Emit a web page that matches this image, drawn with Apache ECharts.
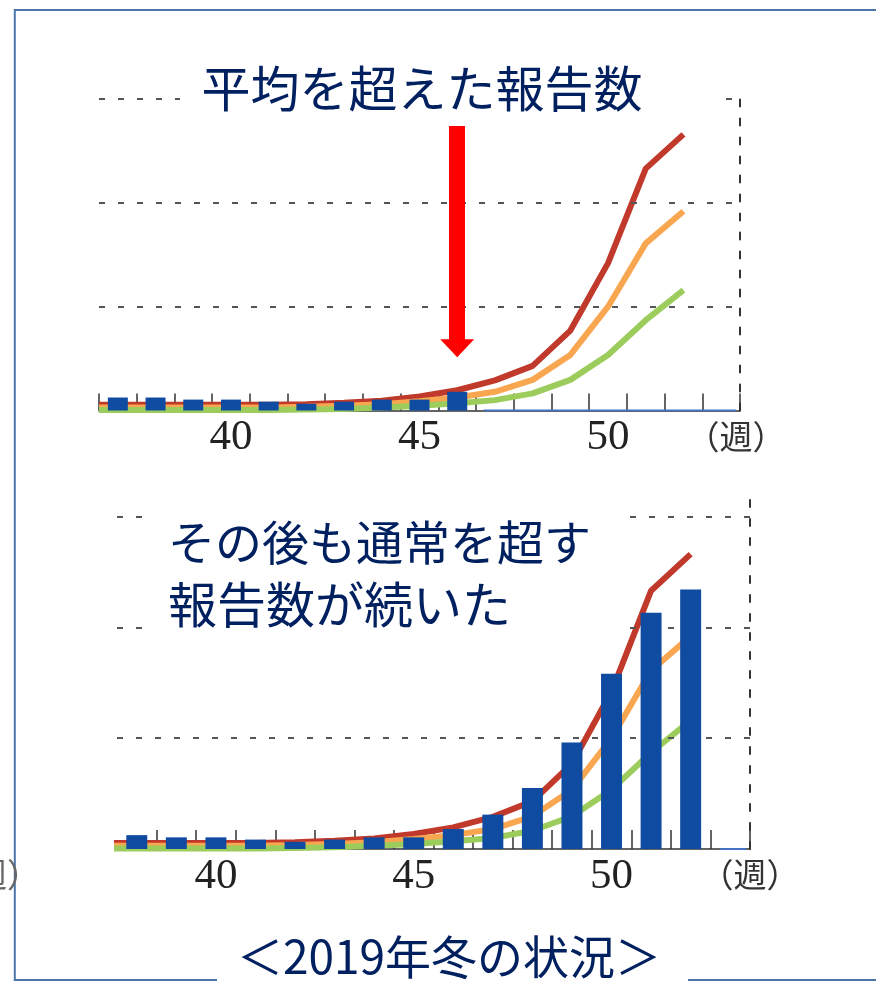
<!DOCTYPE html>
<html>
<head>
<meta charset="utf-8">
<script src="https://cdn.jsdelivr.net/npm/echarts@6/dist/echarts.min.js"></script>
<style>
  html, body { margin: 0; padding: 0; background: #ffffff; }
  #chart { width: 876px; height: 981px; }
</style>
</head>
<body>
<div id="chart"></div>
<script>
// category axes (weeks)
const topWeeks = ['37', '38', '39', '40', '41', '42', '43', '44', '45', '46', '47', '48', '49', '50', '51', '52', '53']
const bottomWeeks = ['38', '39', '40', '41', '42', '43', '44', '45', '46', '47', '48', '49', '50', '51', '52', '53']

// reported counts (blue bars), weeks 37..52
const reportWeeks = [37, 38, 39, 40, 41, 42, 43, 44, 45, 46, 47, 48, 49, 50, 51, 52]
const reports = [1.25, 1.25, 1.05, 1.05, 0.85, 0.65, 0.85, 1.05, 1.05, 1.8, 3.1, 5.5, 9.6, 15.8, 21.3, 23.4]
const topLastWeek = 46

// past-season curves, first point sits on the left edge of the plot
const curveWeeks = [36.5, 37, 38, 39, 40, 41, 42, 43, 44, 45, 46, 47, 48, 49, 50, 51, 52]
const highCurve = [0.55, 0.55, 0.55, 0.55, 0.55, 0.55, 0.6, 0.75, 0.95, 1.35, 1.95, 2.9, 4.3, 7.7, 14.2, 23.3, 26.6]
const avgCurve = [0.3, 0.3, 0.3, 0.3, 0.3, 0.3, 0.35, 0.45, 0.6, 0.9, 1.25, 1.8, 2.95, 5.35, 10.0, 16.1, 19.2]
const lowCurve = [0.05, 0.05, 0.05, 0.05, 0.05, 0.05, 0.1, 0.15, 0.3, 0.45, 0.7, 1.0, 1.65, 2.95, 5.35, 8.7, 11.6]

// blue zero line for weeks without reports
const topZero = [[46.7, 0], [53.4, 0]]
const bottomZero = [[52.75, 0], [53.4, 0]]

const gridValues = [10, 20, 30]
const arrowFrom = 27.4
const arrowTo = 6.0

const C = {
  high: '#c0392b',
  avg: '#f9a651',
  low: '#9ccd5c',
  bar: '#0f4ba0',
  navy: '#002060',
  axis: '#333333',
  frame: '#4a76aa',
}

const chart = echarts.init(document.getElementById('chart'))

function curve(vals) {
  return curveWeeks.map((w, i) => [w, vals[i]])
}

function barData(weeks, last) {
  return weeks.map(w => {
    const i = reportWeeks.indexOf(+w)
    return i >= 0 && +w <= last ? reports[i] : null
  })
}

function catAxis(grid, data, tickLen, skipFirst) {
  return {
    type: 'category',
    gridIndex: grid,
    data: data,
    boundaryGap: true,
    axisLine: { show: true, lineStyle: { color: C.axis, width: 1.5 } },
    axisTick: {
      show: true,
      inside: true,
      length: tickLen,
      lineStyle: { color: C.axis, width: 1.5 },
      interval: skipFirst ? (i) => i > 0 : 0,
    },
    axisLabel: {
      interval: (i, v) => +v % 5 === 0,
      fontFamily: 'Liberation Serif',
      fontSize: 43,
      color: '#222',
      margin: 6,
    },
    splitLine: { show: false },
  }
}

function valAxis(grid, max) {
  return {
    type: 'value',
    gridIndex: grid,
    min: 0,
    max: max,
    position: 'right',
    axisLine: { show: true, lineStyle: { color: C.axis, width: 2, type: [7, 12] } },
    axisTick: { show: false },
    axisLabel: { show: false },
    splitLine: { show: false },
  }
}

function lineSeries(x, y, vals, color, z) {
  return {
    type: 'line', xAxisIndex: x, yAxisIndex: y, data: curve(vals),
    symbol: 'none', z: z, silent: true,
    lineStyle: { color: color, width: 6 },
  }
}

function panel(catIdx, valIdx, yIdx, weeks, last, zero, arrow) {
  const grid = {
    type: 'line', xAxisIndex: valIdx, yAxisIndex: yIdx, data: zero,
    symbol: 'none', z: 1, silent: true,
    lineStyle: { color: '#4472c4', width: 2 },
    markLine: {
      silent: true, symbol: 'none', label: { show: false },
      lineStyle: { color: '#555', width: 2, type: [6, 13] },
      data: gridValues.map(v => ({ yAxis: v })),
    },
  }
  const bars = {
    type: 'bar', xAxisIndex: catIdx, yAxisIndex: yIdx,
    data: barData(weeks, last), barWidth: '53%', z: 6, silent: true,
    itemStyle: { color: C.bar },
  }
  if (arrow) {
    bars.markLine = {
      silent: true, label: { show: false }, symbol: ['none', 'triangle'],
      lineStyle: { color: '#ff0000', width: 16, type: 'solid', opacity: 1 },
      data: [[
        { xAxis: String(topLastWeek), yAxis: arrowFrom, symbol: 'none' },
        { xAxis: String(topLastWeek), yAxis: arrowTo, symbol: 'triangle', symbolSize: [34, 18] },
      ]],
    }
  }
  return [
    grid,
    lineSeries(valIdx, yIdx, highCurve, C.high, 2),
    lineSeries(valIdx, yIdx, avgCurve, C.avg, 3),
    lineSeries(valIdx, yIdx, lowCurve, C.low, 4),
    bars,
  ]
}

const jp = 'Noto Sans CJK JP'

function txt(text, x, y, size, align, font, color) {
  return {
    type: 'text', z: 101,
    style: {
      text: text, x: x, y: y, fill: color || C.navy,
      font: size + 'px ' + (font || "'" + jp + "'"),
      align: align, textAlign: align,
      verticalAlign: 'middle', textVerticalAlign: 'middle',
    },
  }
}

function box(x, y, w, h) {
  return { type: 'rect', z: 100, shape: { x: x, y: y, width: w, height: h }, style: { fill: '#fff' } }
}

function frameLine(x1, y1, x2, y2) {
  return { type: 'line', z: 99, shape: { x1: x1, y1: y1, x2: x2, y2: y2 }, style: { stroke: C.frame, lineWidth: 2 } }
}

const weekFont = "'Liberation Serif', '" + jp + "'"

chart.setOption({
  backgroundColor: '#ffffff',
  animation: false,
  grid: [
    { left: 99, top: 97, width: 641, height: 313.5 },
    { left: 117, top: 492, width: 633, height: 357 },
  ],
  xAxis: [
    catAxis(0, topWeeks, 17, false),
    { type: 'value', gridIndex: 0, min: 36.5, max: 53.5, show: false },
    catAxis(1, bottomWeeks, 19, true),
    { type: 'value', gridIndex: 1, min: 37.5, max: 53.5, show: false },
  ],
  yAxis: [valAxis(0, 30.2), valAxis(1, 32.2)],
  series: [
    ...panel(0, 1, 0, topWeeks, topLastWeek, topZero, true),
    ...panel(2, 3, 1, bottomWeeks, 52, bottomZero, false),
  ],
  graphic: [
    frameLine(14, 10, 876, 10),
    frameLine(14.8, 9, 14.8, 981),
    frameLine(14, 980, 876, 980),
    box(180, 58, 542, 60),
    box(150, 505, 467, 135),
    box(217, 925, 471, 56),
    txt('平均を超えた報告数', 422, 88, 49, 'center'),
    txt('その後も通常を超す', 168, 542, 47, 'left'),
    txt('報告数が続いた', 168, 604, 49, 'left'),
    txt('＜2019年冬の状況＞', 449, 957, 46, 'center'),
    txt('（週）', 736, 440, 33, 'center', weekFont, '#333'),
    txt('（週）', 750, 878, 33, 'center', weekFont, '#333'),
    txt('（週）', 40, 878, 33, 'right', weekFont, '#666'),
  ],
})
</script>
</body>
</html>
